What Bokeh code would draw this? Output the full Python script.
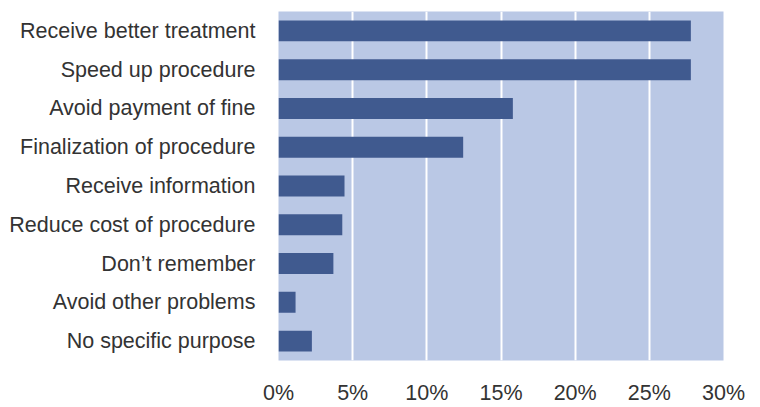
from bokeh.plotting import figure
from bokeh.models import Range1d, FactorRange, FixedTicker, PrintfTickFormatter
from bokeh.embed import file_html
from bokeh.resources import INLINE

categories = ["Receive better treatment", "Speed up procedure", "Avoid payment of fine",
              "Finalization of procedure", "Receive information", "Reduce cost of procedure",
              "Don\u2019t remember", "Avoid other problems", "No specific purpose"]
values = [27.8, 27.8, 15.8, 12.45, 4.45, 4.3, 3.7, 1.15, 2.25]
x_ticks = [0, 5, 10, 15, 20, 25, 30]

FONT = "Liberation Sans"

p = figure(width=760, height=407, output_backend="svg", toolbar_location=None,
           y_range=FactorRange(factors=list(reversed(categories))),
           x_range=Range1d(0, 30),
           min_border_left=278, min_border_right=37, min_border_top=11, min_border_bottom=43)

p.hbar(y=categories, right=values, left=0, height=0.54, color="#405A8F", line_color=None)

p.background_fill_color = "#BAC8E5"
p.border_fill_color = "white"
p.outline_line_color = None

p.xgrid.ticker = FixedTicker(ticks=x_ticks)
p.xgrid.grid_line_color = "white"
p.xgrid.grid_line_width = 2
p.ygrid.grid_line_color = None

p.xaxis.ticker = FixedTicker(ticks=x_ticks)
p.xaxis.formatter = PrintfTickFormatter(format="%d%%")
for ax in (p.xaxis, p.yaxis):
    ax.axis_line_color = None
    ax.major_tick_line_color = None
    ax.minor_tick_line_color = None
    ax.major_tick_out = 0
    ax.major_tick_in = 0
    ax.major_label_text_font = FONT
    ax.major_label_text_font_size = "21.5px"
    ax.major_label_text_color = "#333333"
p.xaxis.major_label_standoff = 20
p.yaxis.major_label_standoff = 23

open("out.html", "w").write(file_html(p, INLINE))
